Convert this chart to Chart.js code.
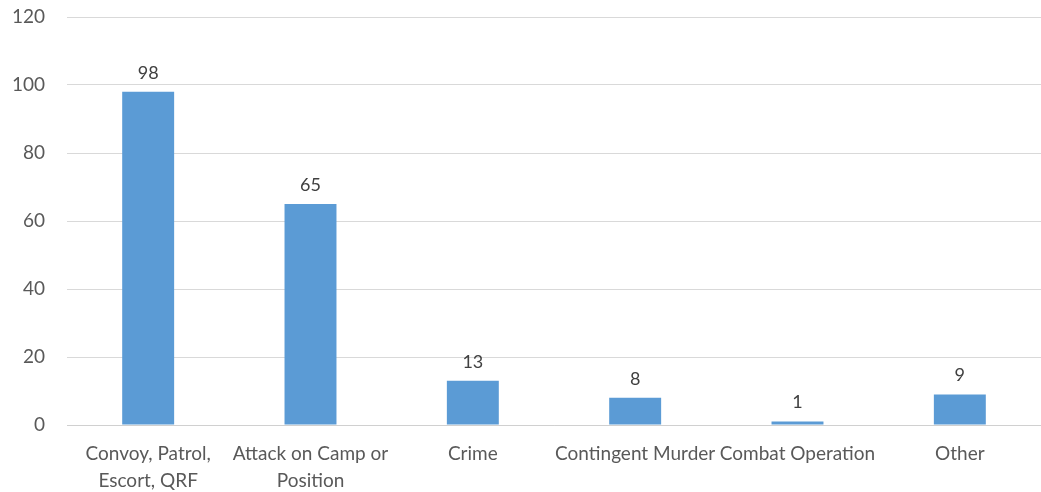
<!DOCTYPE html>
<html>
<head>
<meta charset="utf-8">
<script src="https://cdn.jsdelivr.net/npm/chart.js@4"></script>
<style>
  html, body { margin: 0; padding: 0; background: #fff; }
  #wrap { width: 1041px; height: 492px; }
</style>
</head>
<body>
<div id="wrap"><canvas id="barChart"></canvas></div>
<script>
const categories = [
  ["Convoy, Patrol,", "Escort, QRF"],
  ["Attack on Camp or", "Position"],
  "Crime",
  "Contingent Murder",
  "Combat Operation",
  "Other",
];
const incidents = [98, 65, 13, 8, 1, 9];

const fontFamily = "Lato, 'Open Sans', sans-serif";

// value labels above each bar
const valueLabels = {
  id: "valueLabels",
  afterDatasetsDraw(chart) {
    const c = chart.ctx;
    const meta = chart.getDatasetMeta(0);
    c.save();
    c.font = "18px " + fontFamily;
    c.fillStyle = "#404040";
    c.textAlign = "center";
    c.textBaseline = "bottom";
    meta.data.forEach((bar, i) => {
      c.fillText(incidents[i], bar.x, bar.y - 10);
    });
    c.restore();
  },
};

const ctx = document.getElementById("barChart").getContext("2d");
const myChart = new Chart(ctx, {
  type: "bar",
  data: {
    labels: categories,
    datasets: [
      {
        label: "Incidents",
        data: incidents,
        backgroundColor: "#5b9bd5",
        borderWidth: 0,
        categoryPercentage: 1,
        barPercentage: 0.32,
      },
    ],
  },
  options: {
    responsive: true,
    maintainAspectRatio: false,
    animation: false,
    layout: { padding: { top: 0, right: -5, left: 0, bottom: 0 } },
    plugins: {
      legend: { display: false },
      tooltip: { enabled: false },
    },
    scales: {
      x: {
        grid: { display: false },
        border: { display: true, color: "#d0d0d0" },
        ticks: {
          color: "#595959",
          font: { family: fontFamily, size: 19, lineHeight: 1.4 },
          maxRotation: 0,
          autoSkip: false,
          padding: 8,
        },
        afterFit(scale) { scale.height = 67; },
      },
      y: {
        min: 0,
        max: 120,
        grid: { color: "#d9d9d9", drawTicks: false },
        border: { display: false },
        ticks: {
          stepSize: 20,
          color: "#595959",
          font: { family: fontFamily, size: 19 },
          padding: 22,
        },
        afterFit(scale) {
          scale.width = 67;
          scale.paddingTop = 17;
        },
      },
    },
  },
  plugins: [valueLabels],
});
</script>
</body>
</html>
